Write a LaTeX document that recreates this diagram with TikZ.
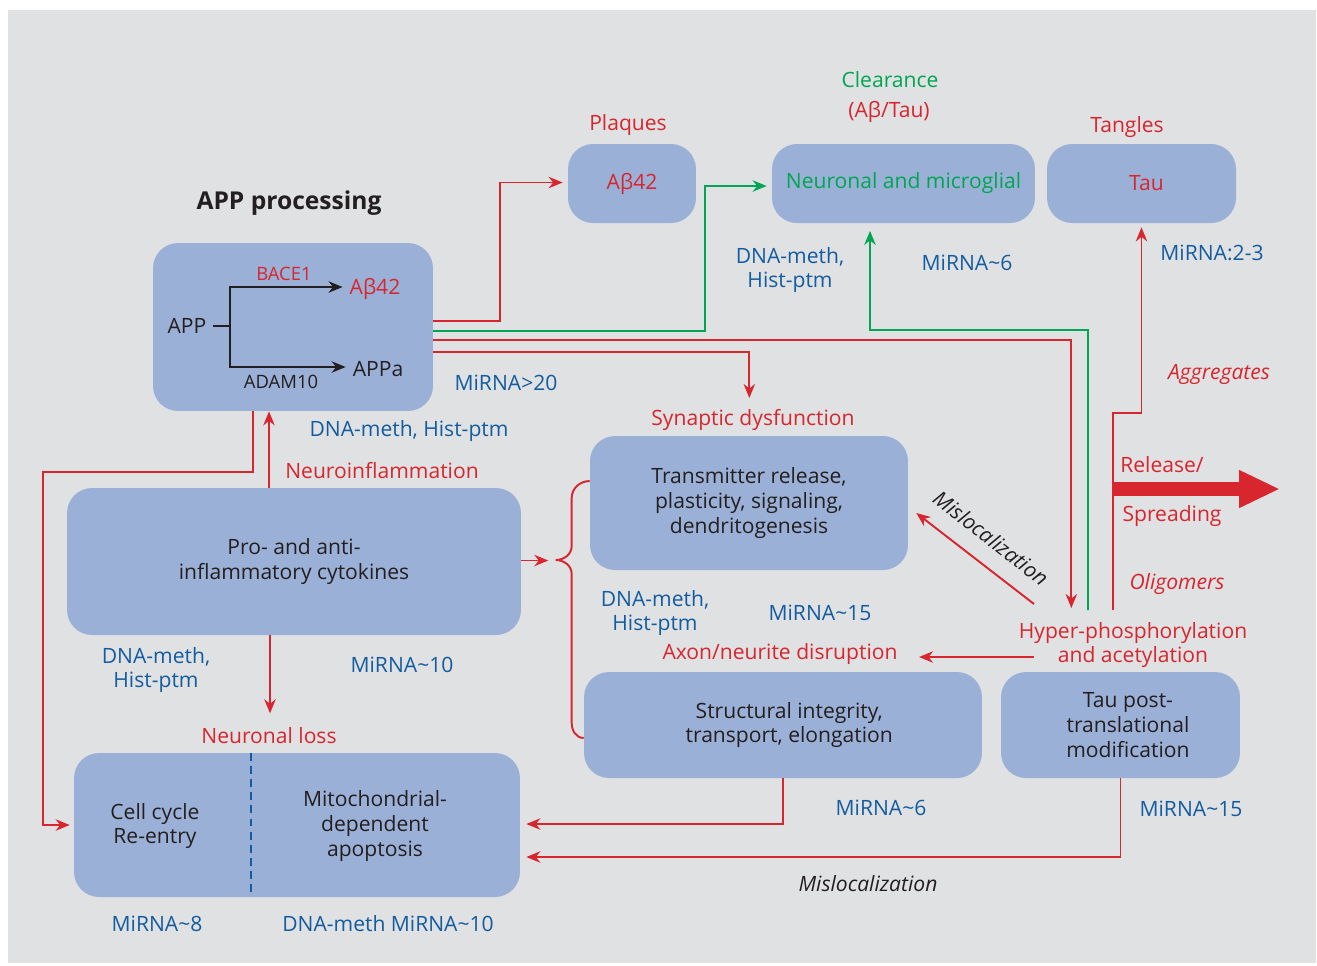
\documentclass[tikz,border=0pt]{standalone}
\usepackage{fontspec}
\setmainfont{Open Sans}
\usetikzlibrary{arrows.meta}
\definecolor{boxblue}{RGB}{155,176,214}
\definecolor{bgc}{RGB}{224,225,227}
\definecolor{myred}{RGB}{215,38,46}
\definecolor{mygreen}{RGB}{0,166,81}
\definecolor{myblue}{RGB}{20,92,160}
\definecolor{txt}{RGB}{35,31,32}
\begin{document}
\begin{tikzpicture}[
		x=0.02cm, y=-0.02cm,
		>={Stealth[length=8pt,width=6.5pt]},
		every node/.style={font=\fontsize{12}{14.2}\selectfont, text=txt, align=center, inner sep=1pt},
		box/.style={fill=boxblue, rounded corners=.5cm, inner sep=0pt},
		rtxt/.style={text=myred},
		gtxt/.style={text=mygreen},
		btxt/.style={text=myblue},
		itxt/.style={font=\fontsize{12}{14.2}\selectfont\itshape},
		small/.style={font=\fontsize{10.5}{12}\selectfont},
		rl/.style={draw=myred, line width=1.1pt},
		gl/.style={draw=mygreen, line width=1.1pt},
		kl/.style={draw=txt, line width=1.1pt}
	]
	\useasboundingbox (0,0) rectangle (1317,965);
	\fill[bgc] (8,10) rectangle (1316,963);

	% boxes
	\node[box, minimum width=5.6cm, minimum height=3.36cm] (app) at (293,327) {};
	\node[box, rtxt, minimum width=2.56cm, minimum height=1.58cm] (plq) at (632,183.5) {Aβ42};
	\node[box, gtxt, minimum width=5.26cm, minimum height=1.58cm] (clr) at (903.5,183.5) {Neuronal and microglial};
	\node[box, rtxt, minimum width=3.78cm, minimum height=1.58cm] (tau) at (1141.5,183.5) {\hspace*{.2cm}Tau};
	\node[box, minimum width=6.36cm, minimum height=2.68cm] (syn) at (749,503) {Transmitter release,\\plasticity, signaling,\\dendritogenesis};
	\node[box, minimum width=9.08cm, minimum height=2.94cm] (inf) at (294,561.5) {Pro- and anti-\\inflammatory cytokines};
	\node[box, minimum width=7.96cm, minimum height=2.12cm] (str) at (783,725) {\hspace*{.25cm}Structural integrity,\\\hspace*{.25cm}transport, elongation};
	\node[box, minimum width=4.78cm, minimum height=2.12cm] (ptm) at (1120.5,725) {\hspace*{.3cm}Tau post-\\\hspace*{.3cm}translational\\\hspace*{.3cm}modification};
	\node[box, minimum width=8.92cm, minimum height=2.88cm] (loss) at (297,825) {};
	\node (cc) at (155,826) {Cell cycle\\Re-entry};
	\node (mito) at (375,826) {Mitochondrial-\\dependent\\apoptosis};
	\draw[myblue, line width=1.3pt, dash pattern=on 4.5pt off 3pt] ([xshift=-.92cm]loss.north) -- ([xshift=-.92cm]loss.south);

	% APP processing
	\node[font=\fontsize{14}{16}\selectfont\bfseries] (ttl) at (289,203) {APP processing};
	\node (appn) at (187,326) {APP};
	\node[rtxt] (ab) at (375,289) {Aβ42};
	\node (appa) at (378,369) {APPa};
	\node[rtxt, small] (bace) at (284,274) {BACE1};
	\node[small] (adam) at (281,382) {ADAM10};
	\coordinate (br) at (230,326);
	\draw[kl] ([xshift=.1cm]appn.east) -- (br);
	\draw[kl,->] (br) |- ([xshift=-.1cm,yshift=.04cm]ab.west);
	\draw[kl,->] (br) |- ([xshift=-.1cm,yshift=.04cm]appa.west);

	% labels
	\node[rtxt] (plql) at (628,125) {Plaques};
	\node[gtxt] (clrl) at (890,80) {Clearance};
	\node[rtxt] (clr2) at (889,112) {(Aβ/Tau)};
	\node[rtxt] (tngl) at (1127,127) {Tangles};
	\node[rtxt] (synl) at (753,420) {Synaptic dysfunction};
	\node[rtxt] (neul) at (382,471) {Neuroinflammation};
	\node[rtxt] (lossl) at (269,736) {Neuronal loss};
	\node[rtxt] (axn) at (780,654) {Axon/neurite disruption};
	\node[rtxt] (hyp) at (1133,645) {Hyper-phosphorylation\\and acetylation};
	\node[rtxt] (rell) at (1162,465) {Release/};
	\node[rtxt] (spr) at (1172,516) {Spreading};
	\node[rtxt, itxt] (olig) at (1177,584) {Oligomers};
	\node[rtxt, itxt] (aggr) at (1219,374) {Aggregates};
	\node[itxt] (misl1) at (868,884) {Mislocalization};
	\node[itxt, rotate=-38] (misl2) at (991,538) {Mislocalization};

	\node[btxt] (dm1) at (790,270) {DNA-meth,\\Hist-ptm};
	\node[btxt] (mi1) at (967,263) {MiRNA\textasciitilde 6};
	\node[btxt] (mi2) at (1212,253) {MiRNA:2-3};
	\node[btxt] (mi3) at (506,383) {MiRNA>20};
	\node[btxt] (dm2) at (409,431) {DNA-meth, Hist-ptm};
	\node[btxt] (dm3) at (655,613) {DNA-meth,\\Hist-ptm};
	\node[btxt] (mi4) at (820,613) {MiRNA\textasciitilde 15};
	\node[btxt] (dm4) at (156,670) {DNA-meth,\\Hist-ptm};
	\node[btxt] (mi5) at (402,665) {MiRNA\textasciitilde 10};
	\node[btxt] (mi6) at (881,808) {MiRNA\textasciitilde 6};
	\node[btxt] (mi7) at (1191,809) {MiRNA\textasciitilde 15};
	\node[btxt] (mi8) at (157,924) {MiRNA\textasciitilde 8};
	\node[btxt] (dm5) at (388,924) {DNA-meth MiRNA\textasciitilde 10};

	% connectors
	\coordinate (g0) at (1088,610);
	\coordinate (t0) at (1113,610);
	\coordinate (rel) at (1113,489);
	\coordinate (m0) at (1034,604);
	\coordinate (a0) at (1034,657);
	\draw[rl,->] ([yshift=.12cm]app.east) -- ++(67,0) |- ([xshift=-.1cm,yshift=.02cm]plq.west);
	\draw[gl,->] ([yshift=-.08cm]app.east) -- ++(272,0) |- ([xshift=-.1cm,yshift=-.05cm]clr.west);
	\draw[rl,->] ([yshift=-.26cm]app.east) -- ++(638,0) -- ++(0,268);
	\draw[rl,->] ([yshift=-.5cm]app.east) -- ++(316,0) -- ++(0,46);
	\draw[gl,->] (g0) |- ++(-218,-280) -- ([xshift=-.67cm,yshift=-.15cm]clr.south);
	\draw[rl,->] (t0) -- ++(0,-197) -| ([yshift=-.08cm]tau.south);
	\draw[myred, line width=.28cm, -{Triangle[length=.82cm,width=.7cm]}] (rel) -- ++(167,0);
	\draw[rl,->] (m0) -- ([xshift=.16cm,yshift=-.2cm]syn.east);
	\draw[rl,->] (a0) -- ++(-115,0);
	\draw[rl] ([yshift=.44cm]syn.west) to[out=180,in=90] ++(-18,17) -- ++(0,48) to[out=-90,in=0] ++(-16,14) to[out=0,in=90] ++(16,14) -- ++(0,149) to[out=-90,in=180] ([yshift=-.26cm]str.west);
	\draw[rl,->] ([yshift=.02cm]inf.east) -- ++(27,0);
	\draw[rl,->] ([xshift=-.5cm]inf.north) -- ([xshift=-.48cm]app.south);
	\draw[rl,->] ([xshift=-.8cm]app.south) -- ++(0,61) -| ([xshift=-.62cm]loss.west) -- ([xshift=-.08cm]loss.west);
	\draw[rl,->] ([xshift=-.48cm]inf.south) -- ++(0,78);
	\draw[rl,->] (str.south) |- ([xshift=.12cm,yshift=.02cm]loss.east);
	\draw[rl,->] (ptm.south) |- ([xshift=.12cm,yshift=-.64cm]loss.east);
\end{tikzpicture}
\end{document}
